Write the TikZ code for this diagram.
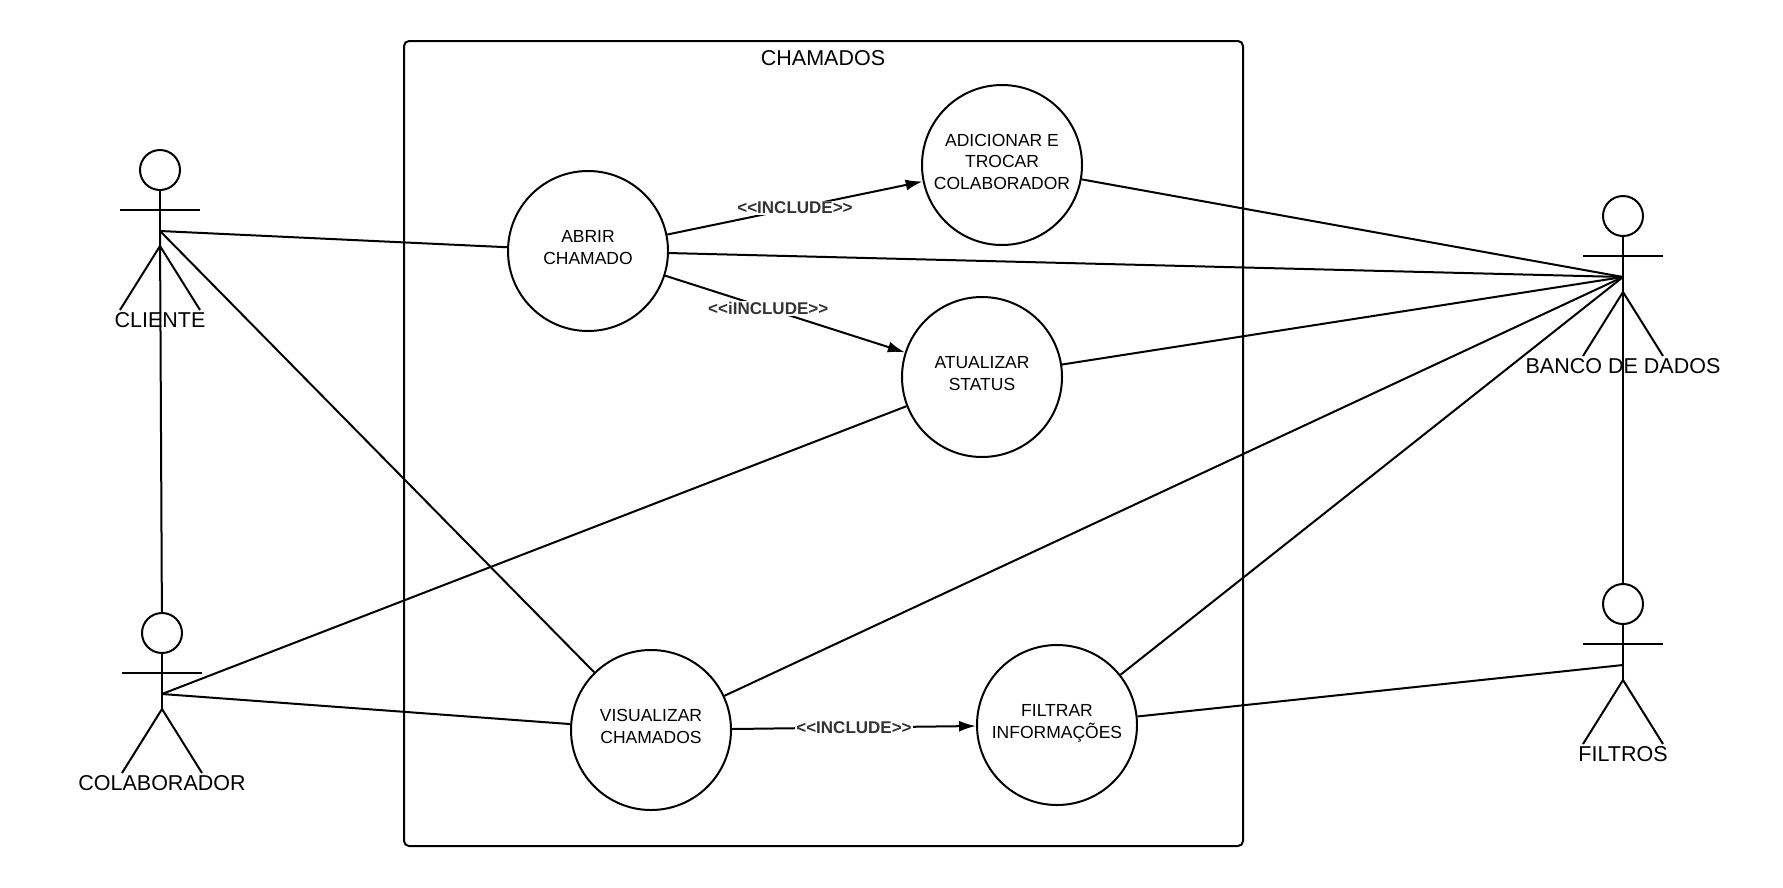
\documentclass[tikz,border=0pt]{standalone}
\usepackage{fontspec}
\setmainfont{Liberation Sans}
\usetikzlibrary{arrows.meta}
\definecolor{cinza}{HTML}{333333}
\tikzset{
	ligacao/.style={line width=2pt},
	caso/.style={draw, circle, ligacao, minimum size=160pt, inner sep=0pt, align=center, text depth=7pt, font=\fontsize{17.5}{21.5}\selectfont},
	inclui/.style={ligacao, -{Latex[length=17pt,width=11pt]}},
	rotulo/.style={fill=white, inner sep=1pt, text=cinza, font=\bfseries\fontsize{17}{20}\selectfont},
	atorlabel/.style={inner sep=0pt, font=\fontsize{21.5}{24}\selectfont},
}
% ator: nome, x, y (centro da cabeca), texto
\newcommand{\desenhaator}[4]{
	\begin{scope}[shift={(#2,#3)}]
		\node[draw, circle, ligacao, minimum size=40pt, inner sep=0pt] (#1-cabeca) at (0,0) {};
		\draw[ligacao] (#1-cabeca.south) -- (0,76);
		\draw[ligacao] (-40,40) -- (40,40);
		\draw[ligacao] (-40,140) -- (0,76) -- (40,140);
		\coordinate (#1) at (0,61);
		\node[atorlabel] (#1-texto) at (0,150) {#4};
	\end{scope}
}

\begin{document}
\begin{tikzpicture}[x=1pt, y=-1pt]
	%%%%% START %%%%%
	\useasboundingbox (0,0) rectangle (1783,887);
	
	% sistema
	\draw[ligacao, rounded corners=5pt] (404,41) rectangle (1243,846);
	\node[atorlabel] (sistema) at (823,58) {CHAMADOS};
	
	% casos de uso
	\node[caso] (abrir) at (588,251) {ABRIR\\CHAMADO};
	\node[caso] (adicionar) at (1002,165) {ADICIONAR E\\TROCAR\\COLABORADOR};
	\node[caso] (atualizar) at (982,377) {ATUALIZAR\\STATUS};
	\node[caso] (visualizar) at (651,730) {VISUALIZAR\\CHAMADOS};
	\node[caso] (filtrar) at (1057,725) {FILTRAR\\INFORMAÇÕES};
	
	% atores
	\desenhaator{cliente}{160}{170}{CLIENTE}
	\desenhaator{colaborador}{162}{633}{COLABORADOR}
	\desenhaator{banco}{1623}{216}{BANCO DE DADOS}
	\desenhaator{filtros}{1623}{604}{FILTROS}
	
	\draw[ligacao] (cliente) -- (colaborador-cabeca);
	\draw[ligacao] (banco) -- (filtros-cabeca);
	
	\draw[ligacao] (cliente) -- (abrir);
	\draw[ligacao] (cliente) -- (visualizar);
	\draw[ligacao] (colaborador) -- (atualizar);
	\draw[ligacao] (colaborador) -- (visualizar);
	
	\draw[ligacao] (abrir) -- (banco);
	\draw[ligacao] (adicionar) -- (banco);
	\draw[ligacao] (atualizar) -- (banco);
	\draw[ligacao] (visualizar) -- (banco);
	\draw[ligacao] (filtrar) -- (banco);
	\draw[ligacao] (filtrar) -- (filtros);
	
	% include
	\draw[inclui] (abrir) -- node[rotulo] {{<}{<}INCLUDE{>}{>}} (adicionar);
	\draw[inclui] (abrir) -- node[rotulo, pos=0.43] {{<}{<}iINCLUDE{>}{>}} (atualizar);
	\draw[inclui] (visualizar) -- node[rotulo] {{<}{<}INCLUDE{>}{>}} (filtrar);
	
	%%%%% END %%%%%
\end{tikzpicture}
\end{document}
